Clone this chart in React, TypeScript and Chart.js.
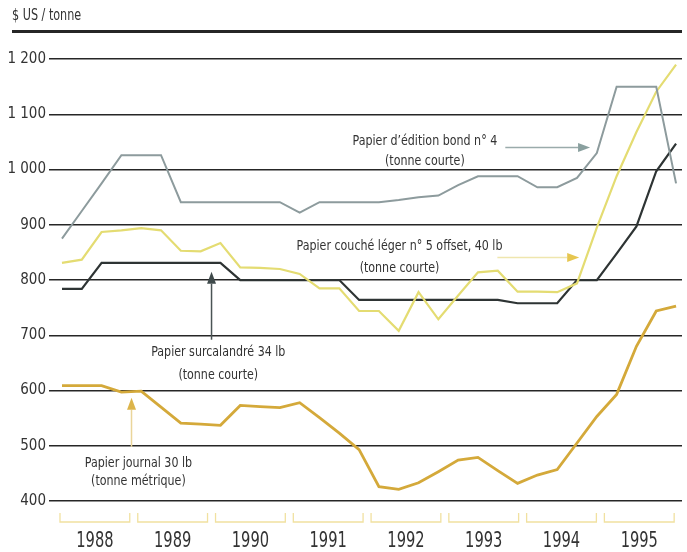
import React, { useEffect, useRef } from "react";
import { Chart, registerables } from "chart.js";

Chart.register(...registerables);

// ---- data (quarterly points, 1988 Q1 .. 1995 Q4) ----
const YEARS = ["1988", "1989", "1990", "1991", "1992", "1993", "1994", "1995"];
const Y_TICKS = [400, 500, 600, 700, 800, 900, 1000, 1100, 1200];
const Y_TOP = 1250;

const BOND = [875, 925, 975, 1026, 1026, 1026, 941, 941, 941, 941, 941, 941, 922, 941, 941, 941,
  941, 945, 950, 953, 972, 988, 988, 988, 968, 968, 985, 1030, 1150, 1150, 1150, 975];
const COUCHE = [831, 837, 887, 890, 894, 890, 853, 852, 867, 823, 822, 820, 811, 785, 785, 744,
  744, 708, 778, 729, 772, 814, 817, 779, 779, 778, 794, 895, 988, 1068, 1141, 1190];
const SURCAL = [784, 784, 831, 831, 831, 831, 831, 831, 831, 800, 800, 800, 800, 800, 800, 764,
  764, 764, 764, 764, 764, 764, 764, 758, 758, 758, 800, 800, 848, 897, 997, 1047];
const JOURNAL = [609, 609, 609, 597, 599, 570, 541, 539, 537, 573, 571, 569, 578, 551, 523, 493,
  426, 421, 433, 453, 474, 479, 455, 432, 447, 457, 505, 553, 593, 680, 744, 753];

const FONT = "'DejaVu Sans Condensed', 'Liberation Sans Narrow', sans-serif";

const COLORS = {
  bond: "#8d9b9d",
  couche: "#e4dc72",
  surcal: "#2e3434",
  journal: "#d4a93a",
  grid: "#262626",
  text: "#333333",
  bracket: "#f1e1a0",
};

// year layout on the index axis
const YEAR_START = -0.302;
const YEAR_SPAN = 3.926;

// annotations anchored in data coordinates
const LABELS = [
  { lines: ["Papier d\u2019\u00e9dition bond n\u00b0 4", "(tonne courte)"], x: 18.32, y: [1051, 1014] },
  { lines: ["Papier couch\u00e9 l\u00e9ger n\u00b0 5 offset, 40 lb", "(tonne courte)"], x: 17.04, y: [861, 822] },
  { lines: ["Papier surcalandr\u00e9 34 lb", "(tonne courte)"], x: 7.89, y: [669, 628] },
  { lines: ["Papier journal 30 lb", "(tonne m\u00e9trique)"], x: 3.86, y: [469, 435] },
];
const ARROWS = [
  { x0: 22.38, y0: 1040, x1: 26.66, y1: 1040, line: "#9aabab", head: "#8aa09f" },
  { x0: 21.98, y0: 841, x1: 26.11, y1: 841, line: "#efe6ae", head: "#e6c650" },
  { x0: 7.55, y0: 692, x1: 7.55, y1: 815, line: "#4a5455", head: "#3f4a4b" },
  { x0: 3.51, y0: 498, x1: 3.51, y1: 587, line: "#ead59a", head: "#dcb44a" },
];

const fmt = (v: number) => {
  if (v >= 1000) return `${Math.floor(v / 1000)} ${String(v % 1000).padStart(3, "0")}`;
  return String(v);
};

function condensedText(ctx: CanvasRenderingContext2D, t: string, x: number, y: number, size: number, sx: number, align: CanvasTextAlign) {
  ctx.save();
  ctx.translate(x, y);
  ctx.scale(sx, 1);
  ctx.font = `${size}px ${FONT}`;
  ctx.textAlign = align;
  ctx.textBaseline = "middle";
  ctx.fillText(t, 0, 0);
  ctx.restore();
}

const overlay = {
  id: "overlay",
  beforeDatasetsDraw(chart: any) {
    const { ctx, chartArea } = chart;
    // heavy top rule extends left over the label column
    ctx.save();
    ctx.strokeStyle = COLORS.grid;
    ctx.lineWidth = 3;
    ctx.beginPath();
    ctx.moveTo(12, chartArea.top);
    ctx.lineTo(chartArea.right, chartArea.top);
    ctx.stroke();
    ctx.restore();
  },
  afterDatasetsDraw(chart: any) {
    const { ctx, chartArea, scales } = chart;
    const xs = scales.x;
    const ys = scales.y;
    ctx.save();
    ctx.fillStyle = COLORS.text;

    // axis title
    condensedText(ctx, "$ US / tonne", 12, 16, 15, 0.83, "left");

    // year brackets and labels
    YEARS.forEach((yr, k) => {
      const a = xs.getPixelForValue(YEAR_START + k * YEAR_SPAN) + 4;
      const b = xs.getPixelForValue(YEAR_START + (k + 1) * YEAR_SPAN) - 4;
      const top = chartArea.bottom + 12;
      const bot = chartArea.bottom + 21;
      ctx.strokeStyle = COLORS.bracket;
      ctx.lineWidth = 1.3;
      ctx.beginPath();
      ctx.moveTo(a, top);
      ctx.lineTo(a, bot);
      ctx.lineTo(b, bot);
      ctx.lineTo(b, top);
      ctx.stroke();
      ctx.fillStyle = COLORS.text;
      condensedText(ctx, yr, (a + b) / 2, chartArea.bottom + 40, 22, 0.74, "center");
    });

    // annotation texts
    ctx.fillStyle = COLORS.text;
    LABELS.forEach((l) => {
      l.lines.forEach((t, i) => {
        condensedText(ctx, t, xs.getPixelForValue(l.x), ys.getPixelForValue(l.y[i]), 14, 0.88, "center");
      });
    });

    // arrows
    ARROWS.forEach((a) => {
      const px0 = xs.getPixelForValue(a.x0);
      const py0 = ys.getPixelForValue(a.y0);
      const px1 = xs.getPixelForValue(a.x1);
      const py1 = ys.getPixelForValue(a.y1);
      const ang = Math.atan2(py1 - py0, px1 - px0);
      const hl = 12;
      const hw = 4.5;
      const bx = px1 - Math.cos(ang) * hl;
      const by = py1 - Math.sin(ang) * hl;
      ctx.strokeStyle = a.line;
      ctx.lineWidth = 1.5;
      ctx.beginPath();
      ctx.moveTo(px0, py0);
      ctx.lineTo(bx, by);
      ctx.stroke();
      ctx.fillStyle = a.head;
      ctx.beginPath();
      ctx.moveTo(px1, py1);
      ctx.lineTo(bx - Math.sin(ang) * hw, by + Math.cos(ang) * hw);
      ctx.lineTo(bx + Math.sin(ang) * hw, by - Math.cos(ang) * hw);
      ctx.closePath();
      ctx.fill();
    });

    ctx.restore();
  },
};

const toPts = (arr: number[]) => arr.map((v, i) => ({ x: i, y: v }));

export default function App() {
  const ref = useRef<HTMLCanvasElement | null>(null);

  useEffect(() => {
    if (!ref.current) return;
    const ds = (label: string, data: number[], color: string, width: number) => ({
      label,
      data: toPts(data),
      borderColor: color,
      backgroundColor: color,
      borderWidth: width,
      pointRadius: 0,
      tension: 0,
      fill: false,
    });
    const chart = new Chart(ref.current, {
      type: "line",
      data: {
        datasets: [
          ds("Papier d'\u00e9dition bond n\u00b0 4", BOND, COLORS.bond, 2),
          ds("Papier couch\u00e9 l\u00e9ger n\u00b0 5 offset, 40 lb", COUCHE, COLORS.couche, 2.2),
          ds("Papier surcalandr\u00e9 34 lb", SURCAL, COLORS.surcal, 2.2),
          ds("Papier journal 30 lb", JOURNAL, COLORS.journal, 2.8),
        ],
      },
      options: {
        animation: false,
        responsive: false,
        maintainAspectRatio: false,
        layout: { padding: { top: 31.5, bottom: 51, left: 0, right: 5 } },
        plugins: { legend: { display: false }, tooltip: { enabled: false }, title: { display: false } },
        scales: {
          x: {
            type: "linear",
            min: -0.655,
            max: 31.3,
            display: false,
          },
          y: {
            type: "linear",
            min: Y_TICKS[0],
            max: Y_TOP,
            afterBuildTicks: (scale: any) => {
              scale.ticks = Y_TICKS.map((value) => ({ value }));
            },
            afterFit: (scale: any) => {
              scale.width = 49;
            },
            border: { display: false },
            grid: {
              color: COLORS.grid,
              lineWidth: 1.5,
              drawTicks: false,
            },
            ticks: {
              padding: 3,
              color: COLORS.text,
              font: { family: FONT, size: 15 },
              callback: (v: any) => fmt(Number(v)),
            },
          },
        },
      },
      plugins: [overlay],
    });
    return () => chart.destroy();
  }, []);

  return (
    <div style={{ position: "fixed", left: 0, top: 0, width: 687, height: 552, background: "#fff" }}>
      <canvas ref={ref} width={687} height={552} style={{ width: 687, height: 552, display: "block" }} />
    </div>
  );
}
